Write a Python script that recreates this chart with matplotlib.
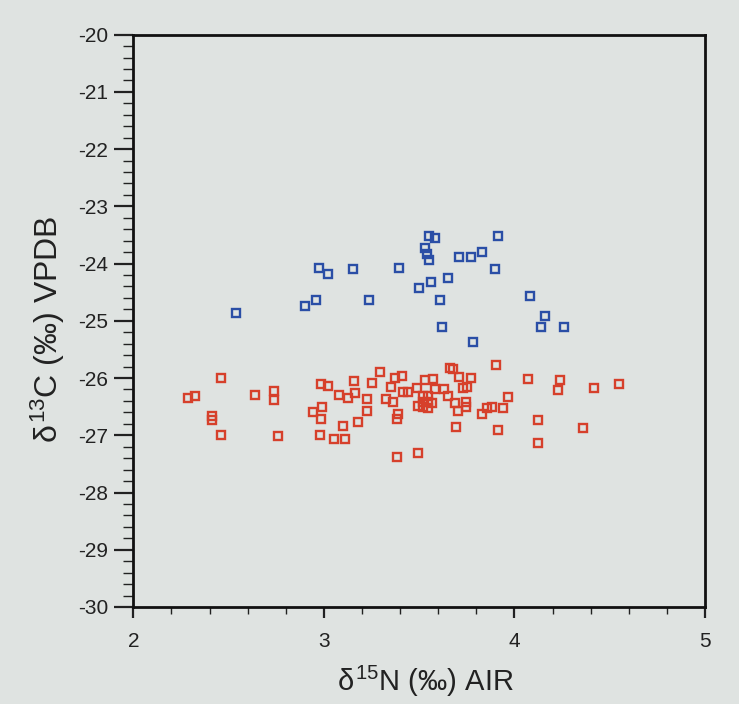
import matplotlib
matplotlib.use("Agg")
import matplotlib.pyplot as plt
from matplotlib.ticker import MultipleLocator

plt.rcParams["font.family"] = ["Liberation Sans", "DejaVu Sans"]
plt.rcParams["mathtext.fontset"] = "custom"
plt.rcParams["mathtext.rm"] = "Liberation Sans"
plt.rcParams["mathtext.it"] = "Liberation Sans"
plt.rcParams["axes.unicode_minus"] = False

# blue group
blue_n = [2.539, 2.900, 2.960, 2.972, 3.021, 3.150, 3.234, 3.393, 3.501, 3.531,
          3.541, 3.551, 3.551, 3.585, 3.561, 3.610, 3.620, 3.652, 3.709, 3.771,
          3.830, 3.781, 3.900, 3.912, 4.080, 4.162, 4.139, 4.261]
blue_c = [-24.87, -24.74, -24.64, -24.08, -24.19, -24.10, -24.63, -24.08, -24.42, -23.72,
          -23.84, -23.93, -23.52, -23.55, -24.32, -24.64, -25.11, -24.25, -23.88, -23.88,
          -23.80, -25.37, -24.10, -23.52, -24.56, -24.92, -25.11, -25.11]

# red group
red_n = [2.289, 2.322, 2.411, 2.411, 2.460, 2.460, 2.640, 2.740, 2.740, 2.757,
         2.941, 2.985, 2.988, 2.985, 2.980, 3.023, 3.053, 3.111, 3.102, 3.081,
         3.128, 3.163, 3.160, 3.181, 3.225, 3.225, 3.254, 3.294, 3.324, 3.364,
         3.352, 3.373, 3.408, 3.417, 3.440, 3.391, 3.382, 3.382, 3.492, 3.492,
         3.487, 3.531, 3.574, 3.583, 3.522, 3.548, 3.522, 3.548, 3.522, 3.548,
         3.566, 3.632, 3.653, 3.688, 3.702, 3.691, 3.662, 3.679, 3.709, 3.772,
         3.732, 3.750, 3.744, 3.744, 3.902, 4.073, 3.968, 3.942, 3.884, 3.855,
         3.832, 3.912, 4.122, 4.122, 4.239, 4.230, 4.419, 4.551, 4.362]
red_c = [-26.35, -26.31, -26.66, -26.74, -26.00, -27.00, -26.30, -26.22, -26.39, -27.01,
         -26.59, -26.11, -26.50, -26.71, -26.99, -26.14, -27.06, -27.07, -26.83, -26.30,
         -26.35, -26.26, -26.06, -26.77, -26.36, -26.57, -26.08, -25.89, -26.36, -26.42,
         -26.16, -26.00, -25.96, -26.24, -26.24, -26.62, -26.71, -27.38, -27.31, -26.49,
         -26.18, -26.03, -26.02, -26.20, -26.32, -26.32, -26.41, -26.41, -26.50, -26.53,
         -26.44, -26.20, -26.32, -26.44, -26.57, -26.85, -25.83, -25.85, -25.99, -26.00,
         -26.18, -26.15, -26.41, -26.50, -25.77, -26.02, -26.33, -26.53, -26.51, -26.53,
         -26.62, -26.91, -26.74, -27.13, -26.03, -26.21, -26.18, -26.11, -26.87]

paper = "#dfe3e1"
fig = plt.figure(figsize=(7.39, 7.04), dpi=100, facecolor=paper)
ax = fig.add_axes([0.1805, 0.1378, 0.7735, 0.813], facecolor=paper)

ax.plot(red_n, red_c, "s", ms=6, mfc="none", mec="#d6402b", mew=1.7)
ax.plot(blue_n, blue_c, "s", ms=6, mfc="none", mec="#2a4ea6", mew=1.7)

ax.set_xlim(2, 5)
ax.set_ylim(-30, -20)
ax.xaxis.set_major_locator(MultipleLocator(1))
ax.xaxis.set_minor_locator(MultipleLocator(0.2))
ax.yaxis.set_major_locator(MultipleLocator(1))
ax.yaxis.set_minor_locator(MultipleLocator(0.2))
ax.tick_params(which="both", direction="out", colors="#222222", labelsize=15)
ax.tick_params(axis="x", which="major", length=8, width=1.6, pad=10)
ax.tick_params(axis="x", which="minor", length=5, width=1.0)
ax.tick_params(axis="y", which="major", length=14, width=1.6, pad=4)
ax.tick_params(axis="y", which="minor", length=7, width=1.0)
for s in ax.spines.values():
    s.set_linewidth(2)
    s.set_color("#111111")

ax.set_xlabel(r"$\delta^{15}$N (‰) AIR", fontsize=21, color="#222222", va="center")
ax.xaxis.set_label_coords(0.51, -0.13)
ax.set_ylabel(r"$\delta^{13}$C (‰) VPDB", fontsize=23, color="#222222",
              va="center", ha="center")
ax.yaxis.set_label_coords(-0.15, 0.485)

fig.savefig("out.png", dpi=100, facecolor=paper)
